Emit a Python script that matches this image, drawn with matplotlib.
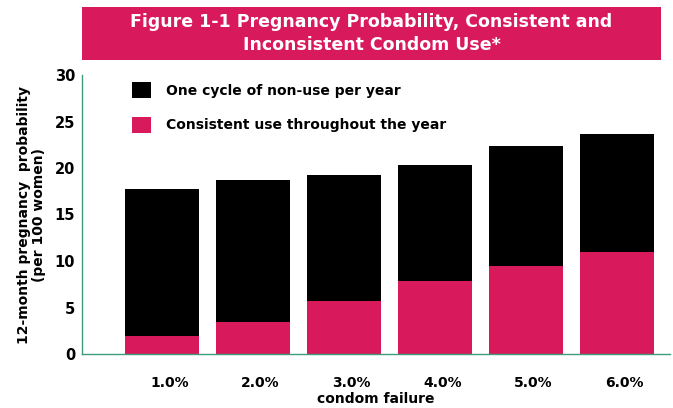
import matplotlib
matplotlib.use("Agg")
import matplotlib.pyplot as plt
from matplotlib.patches import Rectangle, Patch
import numpy as np

categories = ["1.0%", "2.0%", "3.0%", "4.0%", "5.0%", "6.0%"]
nonuse_total = [17.7, 18.7, 19.3, 20.35, 22.4, 23.65]
consistent = [1.9, 3.4, 5.7, 7.8, 9.45, 11.0]
yticks = [0, 5, 10, 15, 20, 25, 30]

PINK = "#D81A5C"
SPINE = "#3C9C7C"

fig = plt.figure(figsize=(6.73, 4.08), dpi=100)
W, H = 673, 408

# title banner
fig.patches.append(Rectangle((82 / W, 1 - 60 / H), (661 - 82) / W, (60 - 7) / H,
                             transform=fig.transFigure, facecolor=PINK, edgecolor="none"))
fig.text((82 + 661) / 2 / W, 1 - 33.5 / H,
         "Figure 1-1 Pregnancy Probability, Consistent and\nInconsistent Condom Use*",
         ha="center", va="center", color="white", fontsize=12.5, fontweight="bold",
         linespacing=1.3)

ax = fig.add_axes([82 / W, 1 - 354 / H, (670 - 82) / W, (354 - 75) / H])
x = np.arange(len(categories))
ax.bar(x, nonuse_total, width=0.81, color="black", label="One cycle of non-use per year")
ax.bar(x, consistent, width=0.81, color=PINK, label="Consistent use throughout the year")

ax.set_xlim(-0.88, 5.58)
ax.set_ylim(0, 30)
ax.set_yticks(yticks)
ax.set_yticklabels([str(v) for v in yticks], fontsize=10.5, fontweight="bold")
ax.set_xticks(x + 0.08)
ax.set_xticklabels(categories, fontsize=10, fontweight="bold")
ax.tick_params(axis="both", length=0)
ax.tick_params(axis="y", pad=5)
ax.tick_params(axis="x", pad=16)

for s in ["top", "right"]:
    ax.spines[s].set_visible(False)
for s in ["left", "bottom"]:
    ax.spines[s].set_color(SPINE)
    ax.spines[s].set_linewidth(1.0)

ax.set_xlabel("condom failure", fontsize=10, fontweight="bold", labelpad=1)
ax.set_ylabel("12-month pregnancy  probability\n(per 100 women)", fontsize=10,
              fontweight="bold", labelpad=6, linespacing=1.1)

handles = [Patch(facecolor="black", label="One cycle of non-use per year"),
           Patch(facecolor=PINK, label="Consistent use throughout the year")]
leg = ax.legend(handles=handles, loc="upper left", bbox_to_anchor=(0.075, 0.995),
                frameon=False, prop={"weight": "bold", "size": 10},
                handlelength=1.4, handleheight=1.4, handletextpad=1.1,
                labelspacing=1.35, borderaxespad=0)

fig.savefig("out.png", dpi=100)
